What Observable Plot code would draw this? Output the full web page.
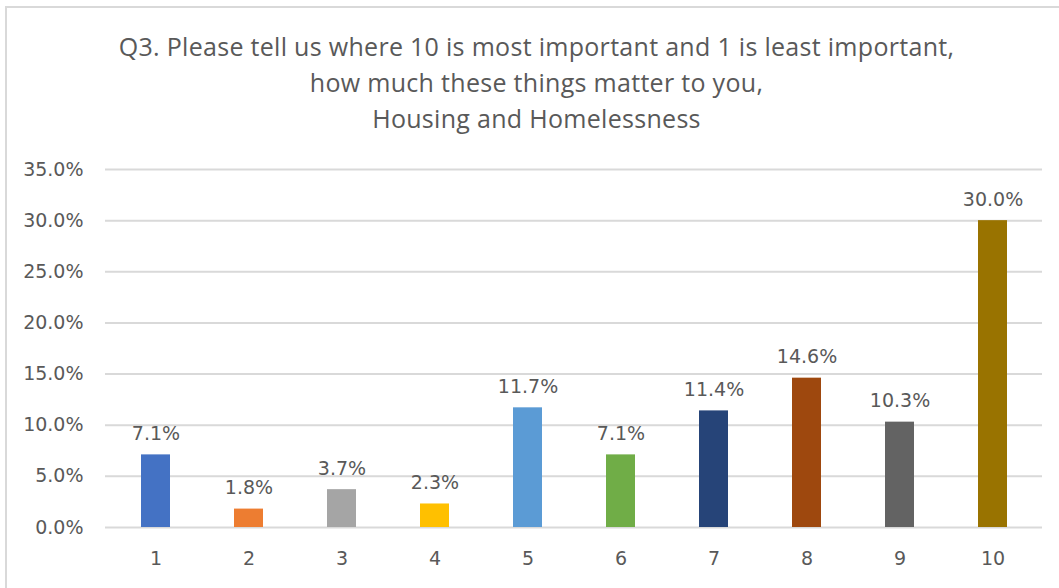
<!DOCTYPE html>
<html>
<head>
<meta charset="utf-8">
<script src="https://cdn.jsdelivr.net/npm/d3@7"></script>
<script src="https://cdn.jsdelivr.net/npm/@observablehq/plot@0.6"></script>
<style>
  html, body { margin: 0; padding: 0; background: #fff; }
  #page { position: relative; width: 1059px; height: 588px; overflow: hidden; background: #fff; }
  #frame { position: absolute; left: 5px; top: 6px; width: 1100px; height: 640px; border: 2px solid #d9d9d9; box-sizing: border-box; }
  #title { position: absolute; left: 0; top: 28px; width: 1073px; text-align: center; font-family: "Open Sans", sans-serif; font-size: 25px; letter-spacing: 0.3px; line-height: 36px; color: #595959; }
  #chart { position: absolute; left: 0; top: 150px; }
  #chart svg { background: transparent !important; }
</style>
</head>
<body>
<div id="page">
  <div id="frame"></div>
  <div id="title">Q3. Please tell us where 10 is most important and 1 is least important,<br>how much these things matter to you,<br>Housing and Homelessness</div>
  <div id="chart"></div>
</div>
<script>
const categories = ["1","2","3","4","5","6","7","8","9","10"];
const values = [0.071, 0.018, 0.037, 0.023, 0.117, 0.071, 0.114, 0.146, 0.103, 0.300];
const colors = ["#4472C4","#ED7D31","#A5A5A5","#FFC000","#5B9BD5","#70AD47","#264478","#9E480E","#636363","#997300"];
const yTicks = [0, 0.05, 0.10, 0.15, 0.20, 0.25, 0.30, 0.35];

const data = categories.map((c, i) => ({cat: c, value: values[i], color: colors[i]}));
const fmt = d3.format(".1%");

const chart = Plot.plot({
  width: 1059,
  height: 438,
  marginTop: 19,
  marginBottom: 61,
  marginLeft: 105,
  marginRight: 17,
  style: {fontFamily: "'DejaVu Sans', sans-serif", fontSize: "19px", color: "#595959", background: "transparent"},
  x: {domain: categories, paddingInner: 0.69, paddingOuter: 0.345, label: null},
  y: {domain: [0, 0.35], label: null},
  marks: [
    Plot.gridY(yTicks, {stroke: "#d9d9d9", strokeOpacity: 1, strokeWidth: 2}),
    Plot.barY(data, {x: "cat", y: "value", fill: "color"}),
    Plot.text(data, {x: "cat", y: "value", text: d => fmt(d.value), lineAnchor: "bottom", dy: -15, fill: "#595959", fontSize: 19}),
    Plot.axisX({tickSize: 0, tickPadding: 24, fontSize: 19, fill: "#595959"}),
    Plot.axisY({ticks: yTicks, tickFormat: fmt, tickSize: 0, tickPadding: 22, fontSize: 19, fill: "#595959"})
  ]
});
document.getElementById("chart").appendChild(chart);
</script>
</body>
</html>
